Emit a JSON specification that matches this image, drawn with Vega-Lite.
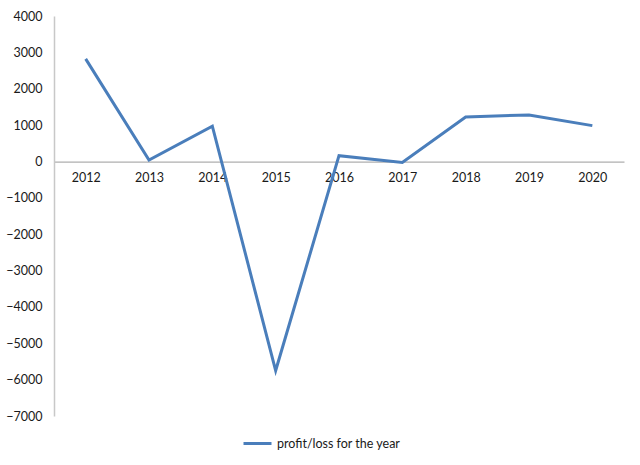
{
  "$schema": "https://vega.github.io/schema/vega-lite/v6.json",
  "width": 570,
  "height": 400,
  "autosize": {"type": "none"},
  "padding": {"left": 54, "top": 16, "right": 16, "bottom": 49},
  "background": "white",
  "config": {
    "view": {"stroke": null},
    "font": "Lato",
    "axis": {"labelFont": "Lato", "labelFontSize": 12.5, "labelColor": "#1a1a1a", "grid": false, "ticks": false, "title": null},
    "legend": {"labelFont": "Lato", "labelFontSize": 12.5, "labelColor": "#1a1a1a"}
  },
  "data": {
    "values": [
      {"year": "2012", "value": 2820, "series": "profit/loss for the year"},
      {"year": "2013", "value": 40, "series": "profit/loss for the year"},
      {"year": "2014", "value": 970, "series": "profit/loss for the year"},
      {"year": "2015", "value": -5750, "series": "profit/loss for the year"},
      {"year": "2016", "value": 160, "series": "profit/loss for the year"},
      {"year": "2017", "value": -30, "series": "profit/loss for the year"},
      {"year": "2018", "value": 1225, "series": "profit/loss for the year"},
      {"year": "2019", "value": 1280, "series": "profit/loss for the year"},
      {"year": "2020", "value": 985, "series": "profit/loss for the year"}
    ]
  },
  "mark": {"type": "line", "strokeWidth": 3},
  "encoding": {
    "x": {
      "field": "year",
      "type": "ordinal",
      "scale": {"type": "point", "padding": 0.5},
      "axis": {"labelAngle": 0, "offset": -254.4, "domainColor": "#9a9a9a", "domainWidth": 1, "labelPadding": 10}
    },
    "y": {
      "field": "value",
      "type": "quantitative",
      "scale": {"domain": [-7000, 4000], "nice": false, "zero": false},
      "axis": {"values": [-7000, -6000, -5000, -4000, -3000, -2000, -1000, 0, 1000, 2000, 3000, 4000], "format": "d", "domainColor": "#c8c8c8", "domainWidth": 1.5, "labelPadding": 12}
    },
    "color": {
      "field": "series",
      "type": "nominal",
      "scale": {"range": ["#4a7ebb"]},
      "legend": {"title": null, "orient": "none", "legendX": 188, "legendY": 412, "symbolType": "stroke", "symbolSize": 784, "symbolStrokeWidth": 3, "labelOffset": 4}
    }
  }
}
